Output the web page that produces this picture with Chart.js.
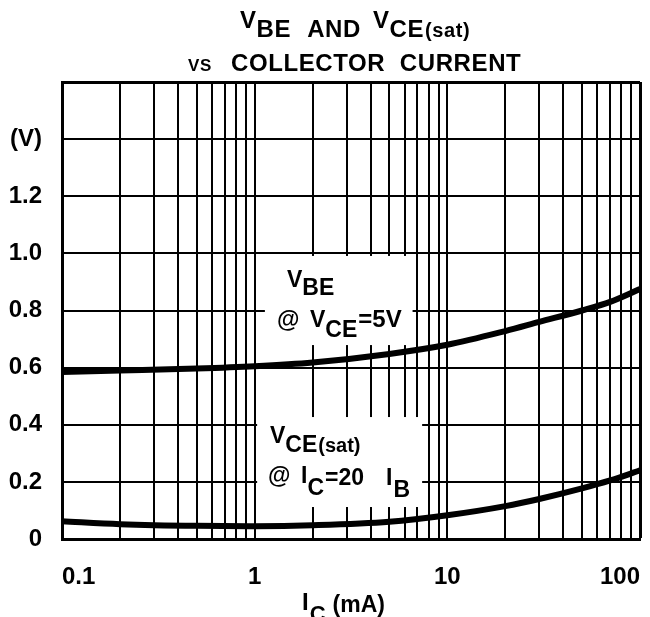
<!DOCTYPE html>
<html><head><meta charset="utf-8">
<script src="https://cdn.jsdelivr.net/npm/chart.js@4.4.1/dist/chart.umd.min.js"></script>
<style>html,body{margin:0;padding:0;background:#fff;}</style>
</head><body>
<canvas id="c" width="650" height="617"></canvas>
<script>
// ---- data ----
const currentMA = [0.1, 0.2, 0.5, 1, 2, 5, 10, 20, 30, 50, 70, 100];
const vbe       = [0.585, 0.59, 0.597, 0.605, 0.618, 0.648, 0.68, 0.728, 0.76, 0.80, 0.83, 0.875];
const vceSat    = [0.062, 0.052, 0.046, 0.045, 0.048, 0.06, 0.083, 0.115, 0.14, 0.177, 0.205, 0.24];
const xTicks = [0.1,0.2,0.3,0.4,0.5,0.6,0.7,0.8,0.9,1,2,3,4,5,6,7,8,9,10,20,30,40,50,60,70,80,90,100];
const xTickLabels = {"0.1":"0.1","1":"1","10":"10","100":"100"};
const yTicks = [0,0.2,0.4,0.6,0.8,1.0,1.2,1.4,1.6];
const yTickLabels = ["0","0.2","0.4","0.6","0.8","1.0","1.2","(V)",""];

const FONT = '"Liberation Sans", Arial, sans-serif';

// label boxes (in data units) that blank the grid behind the annotations
const labelBoxes = [
  {x0: 1.13, x1: 6.6, y0: 0.679, y1: 0.991},
  {x0: 1.03, x1: 7.4, y0: 0.112, y1: 0.427}
];

function run(ctx, t, x, y, size){
  ctx.font = 'bold ' + size + 'px ' + FONT;
  ctx.fillText(t, x, y);
  return x + ctx.measureText(t).width;
}

const blankPlugin = {
  id: 'blank',
  beforeDatasetsDraw(chart){
    const {ctx, scales:{x, y}} = chart;
    ctx.save();
    ctx.fillStyle = '#fff';
    labelBoxes.forEach(b => {
      const px0 = x.getPixelForValue(b.x0), px1 = x.getPixelForValue(b.x1);
      const py0 = y.getPixelForValue(b.y1), py1 = y.getPixelForValue(b.y0);
      ctx.fillRect(px0, py0, px1 - px0, py1 - py0);
    });
    ctx.restore();
  }
};

const textPlugin = {
  id: 'texts',
  afterDraw(chart){
    const ctx = chart.ctx;
    ctx.save();
    ctx.fillStyle = '#000';
    ctx.textAlign = 'left';
    ctx.textBaseline = 'alphabetic';
    ctx.letterSpacing = '0.6px';
    // Title line 1
    let x = 240;
    x = run(ctx, 'V', x, 28, 24);
    x = run(ctx, 'BE', x, 37, 24);
    x = run(ctx, 'AND', x + 16, 37, 24);
    x = run(ctx, 'V', x + 12, 28, 24);
    x = run(ctx, 'CE', x, 37, 24);
    x = run(ctx, '(sat)', x + 1, 37, 20);
    // Title line 2
    run(ctx, 'VS', 188, 71, 17);
    run(ctx, 'COLLECTOR  CURRENT', 231, 71, 24);
    ctx.letterSpacing = '0px';
    // x axis title
    x = run(ctx, 'I', 302, 610, 24);
    x = run(ctx, 'C', x + 1, 621, 22);
    run(ctx, '(mA)', x + 7, 612, 23);
    // VBE annotation
    x = run(ctx, 'V', 287, 287, 23);
    run(ctx, 'BE', x, 295, 23);
    run(ctx, '@', 277, 327, 23);
    x = run(ctx, 'V', 310, 327, 23);
    x = run(ctx, 'CE', x, 337, 23);
    run(ctx, '=5V', x + 1, 327, 24);
    // VCE(sat) annotation
    x = run(ctx, 'V', 270, 443, 23);
    x = run(ctx, 'CE', x, 452, 23);
    run(ctx, '(sat)', x + 1, 452, 20);
    run(ctx, '@', 268, 483, 23);
    x = run(ctx, 'I', 301, 483, 23);
    x = run(ctx, 'C', x, 495, 23);
    run(ctx, '=20', x + 1, 485, 23);
    x = run(ctx, 'I', 386, 485, 23);
    run(ctx, 'B', x + 1, 497, 23);
    ctx.restore();
  }
};

new Chart(document.getElementById('c'), {
  type: 'line',
  data: {
    datasets: [
      {label: 'VBE @ VCE=5V', data: currentMA.map((c, i) => ({x: c, y: vbe[i]})),
       borderColor: '#000', borderWidth: 6, pointRadius: 0, cubicInterpolationMode: 'monotone', fill: false},
      {label: 'VCE(sat) @ IC=20 IB', data: currentMA.map((c, i) => ({x: c, y: vceSat[i]})),
       borderColor: '#000', borderWidth: 6, pointRadius: 0, cubicInterpolationMode: 'monotone', fill: false}
    ]
  },
  options: {
    responsive: false,
    animation: false,
    devicePixelRatio: 1,
    layout: {padding: {top: 82, right: 10, left: 0, bottom: 0}},
    plugins: {legend: {display: false}, tooltip: {enabled: false}, title: {display: false}},
    scales: {
      x: {
        type: 'logarithmic', min: 0.1, max: 100,
        afterBuildTicks: s => { s.ticks = xTicks.map(v => ({value: v})); },
        afterFit: s => { s.height = 78; s.paddingLeft = 0; s.paddingRight = 0; },
        ticks: {
          autoSkip: false, maxRotation: 0, minRotation: 0, align: 'inner', padding: 24,
          color: '#000', font: {family: FONT, size: 24, weight: 'bold'},
          callback: (v) => xTickLabels[String(v)] || ''
        },
        grid: {color: '#000', lineWidth: c => (c.tick && c.tick.value === 100 ? 3 : 2), drawTicks: false},
        border: {display: true, color: '#000', width: 3}
      },
      y: {
        min: 0, max: 1.6,
        afterBuildTicks: s => { s.ticks = yTicks.map(v => ({value: v})); },
        afterFit: s => { s.width = 62; s.paddingTop = 0; s.paddingBottom = 0; },
        ticks: {
          padding: 20, color: '#000', font: {family: FONT, size: 24, weight: 'bold'},
          callback: (v, i) => yTickLabels[i]
        },
        grid: {color: '#000', lineWidth: c => (c.tick && c.tick.value === 1.6 ? 3 : 2), drawTicks: false},
        border: {display: true, color: '#000', width: 3}
      }
    }
  },
  plugins: [blankPlugin, textPlugin]
});
</script>
</body></html>
